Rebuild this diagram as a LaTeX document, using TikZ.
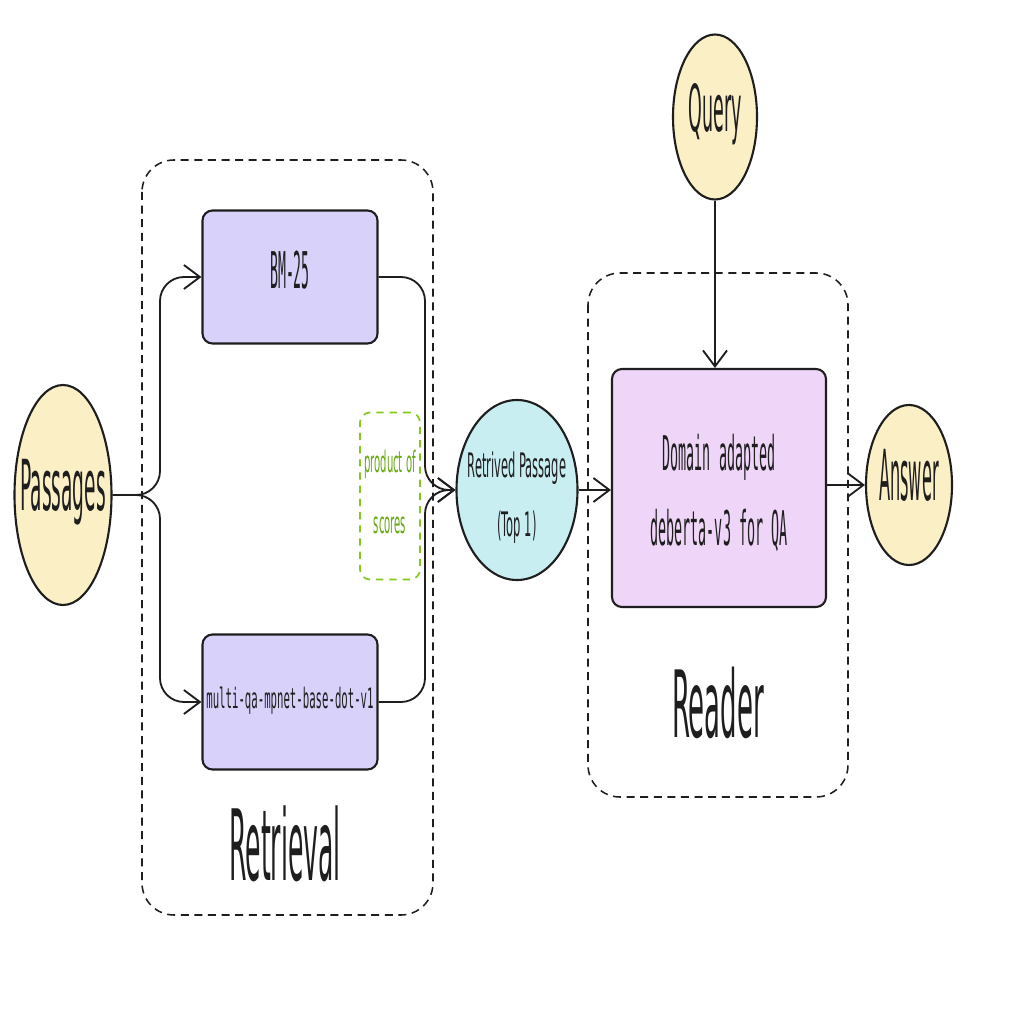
\documentclass[tikz,border=0pt]{standalone}
\usepackage{fontspec}
\usepackage{graphicx}
\usetikzlibrary{arrows.meta,shapes.geometric}
\newfontfamily\handf{DejaVu Sans}
\newfontfamily\monof{DejaVu Sans Mono}
\newcommand\sqz[2][0.45]{\scalebox{#1}[1]{\begin{tabular}{@{}c@{}}#2\end{tabular}}}
\newcommand\fs[1]{\fontsize{#1}{#1}\selectfont}
\definecolor{ink}{HTML}{1E1E1E}
\definecolor{yel}{HTML}{FBEFC6}
\definecolor{cya}{HTML}{C8EEF2}
\definecolor{lav}{HTML}{D8D2FB}
\definecolor{pnk}{HTML}{EFD5F7}
\definecolor{grn}{HTML}{66A80F}
\definecolor{grnl}{HTML}{82C91E}
\tikzset{
  circnode/.style={ellipse, draw=ink, line width=1.5pt, inner sep=-8mm},
  boxnode/.style={rectangle, rounded corners=2.5mm, draw=ink, line width=1.5pt, inner sep=-5mm},
  grp/.style={draw=ink, line width=1.1pt, dash pattern=on 2mm off 1.4mm, rounded corners=8mm},
  arr/.style={draw=ink, line width=1.3pt, -{Straight Barb[length=4mm,width=6mm,line width=1.3pt]}},
  handlbl/.style={font=\handf, text=ink},
}
\begin{document}
\begin{tikzpicture}[x=0.25mm,y=-0.25mm]
\useasboundingbox (0,0) rectangle (1024,1024);
\fill[white] (0,0) rectangle (1024,1024);
% groups
\draw[grp] (142,160) rectangle (433,915);
\draw[grp] (588,273) rectangle (848,797);
% nodes
\node[circnode, fill=yel, minimum width=24.25mm, minimum height=55mm, handlbl] (pass) at (63,495) {\fs{50}\sqz[0.265]{Passages}};
\node[circnode, fill=yel, minimum width=21mm, minimum height=41.25mm, handlbl] (query) at (715,117) {\fs{46}\sqz[0.27]{Query}};
\node[circnode, fill=yel, minimum width=21.5mm, minimum height=40mm, handlbl] (ans) at (909,485) {\fs{50}\sqz[0.23]{Answer}};
\node[circnode, fill=cya, minimum width=30.25mm, minimum height=45mm, handlbl] (ret) at (517,490) {\fs{24}\sqz[0.34]{\rule{0pt}{11mm}Retrived Passage\\[6mm](Top 1)}};
\node[boxnode, fill=lav, minimum width=43.75mm, minimum height=33.25mm, font=\monof, text=ink] (bm) at (290,277) {\fs{36}\sqz[0.26]{BM-25}};
\node[boxnode, fill=lav, minimum width=43.75mm, minimum height=33.75mm, font=\monof, text=ink] (mq) at (290,702) {\fs{20}\sqz[0.38]{multi-qa-mpnet-base-dot-v1}};
\node[boxnode, fill=pnk, minimum width=53.5mm, minimum height=59.5mm, font=\monof, text=ink] (dom) at (719,488) {\fs{34}\sqz[0.28]{\rule{0pt}{13.6mm}Domain adapted\\[6mm]deberta-v3 for QA}};
\node[rectangle, rounded corners=2.5mm, draw=grnl, line width=1.2pt, dash pattern=on 1.8mm off 1.5mm, minimum width=15mm, minimum height=41.75mm, font=\handf, text=grn, inner sep=-4mm] (prod) at (390,496) {\fs{21}\sqz[0.34]{product of\\[8mm]scores}};
\node[handlbl] (lret) at (285,858) {\fs{70}\sqz[0.255]{Retrieval}};
\node[handlbl] (lrea) at (718,716) {\fs{66}\sqz[0.28]{Reader}};
% connectors
\coordinate (split) at (160,495);
\coordinate (merge) at (425,490);
\draw[arr, rounded corners=6mm] (pass.east) -- (split) -- (split |- bm.west) -- (bm.west);
\draw[arr, rounded corners=6mm] (pass.east) -- (split) -- (split |- mq.west) -- (mq.west);
\draw[arr, rounded corners=6mm] (bm.east) -- (merge |- bm.east) -- (merge) -- (ret.west);
\draw[arr, rounded corners=6mm] (mq.east) -- (merge |- mq.east) -- (merge) -- (ret.west);
\draw[arr] (ret.east) -- (dom.west |- ret.east);
\draw[arr] (query.south) -- (query.south |- dom.north);
\draw[arr] (dom.east |- ans.west) -- (ans.west);
\end{tikzpicture}
\end{document}
